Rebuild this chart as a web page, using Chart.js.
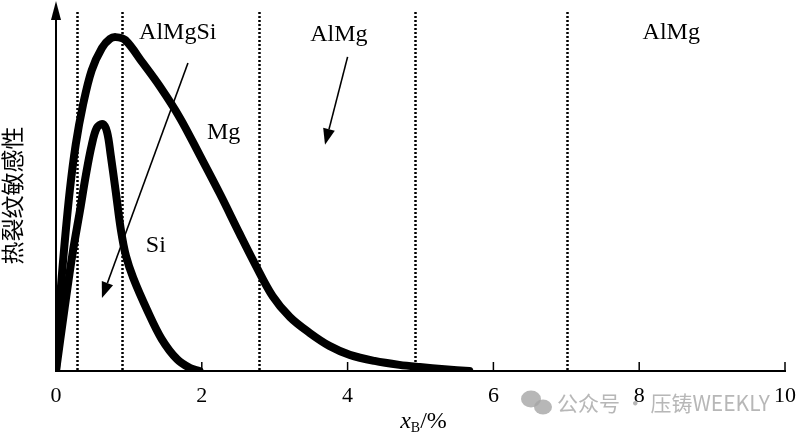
<!DOCTYPE html>
<html>
<head>
<meta charset="utf-8">
<script src="https://cdn.jsdelivr.net/npm/chart.js@4.4.0/dist/chart.umd.min.js"></script>
<style>
  html, body { margin: 0; padding: 0; background: #fff; }
  #wrap { width: 800px; height: 435px; }
</style>
</head>
<body>
<div id="wrap"><canvas id="chart" width="800" height="435"></canvas></div>
<script>
// Mg 曲线 (x 为 xB/%, y 为相对热裂纹敏感性)
const mgX = [0, 0.055, 0.11, 0.19, 0.27, 0.37, 0.49, 0.63, 0.74, 0.82, 0.95, 1.19, 1.43, 1.70, 1.97, 2.25, 2.52, 2.73, 2.97, 3.21, 3.48, 3.75, 4.03, 4.37, 4.71, 4.99, 5.33, 5.67];
const mgY = [0, 19.8, 33.7, 50.4, 63.0, 74.1, 83.8, 90.0, 92.5, 93.0, 92.2, 85.8, 79.1, 70.5, 60.2, 49.3, 38.2, 29.8, 20.9, 15.0, 10.6, 7.0, 4.5, 2.8, 1.7, 1.1, 0.5, 0];

// Si 曲线
const siX = [0, 0.12, 0.23, 0.33, 0.41, 0.49, 0.56, 0.64, 0.70, 0.75, 0.82, 0.89, 0.96, 1.06, 1.25, 1.45, 1.66, 1.84, 1.97];
const siY = [0, 17.8, 33.1, 44.8, 54.6, 62.9, 67.7, 68.8, 66.6, 60.2, 49.9, 39.3, 32.0, 25.9, 17.0, 8.9, 3.3, 0.8, 0];

// 分区虚线位置
const boundaries = [0.29, 0.90, 2.78, 4.92, 7.01];

const xTicks = [0, 2, 4, 6, 8, 10];

// 文字标注
const noteText = ['AlMgSi', 'AlMg', 'AlMg', 'Mg', 'Si'];
const noteX = [1.67, 3.88, 8.44, 2.30, 1.37];
const noteY = [94.2, 93.6, 94.2, 66.3, 34.8];

// 箭头 (起点 -> 终点)
const arrowFrom = [[1.81, 85.8], [4.00, 87.5]];
const arrowTo = [[0.63, 20.3], [3.69, 63.0]];

const toPoints = (xs, ys) => xs.map((x, i) => ({ x: x, y: ys[i] }));

const serif = '"Liberation Serif", "DejaVu Serif", serif';

const decor = {
  id: 'decor',
  beforeDatasetsDraw(chart) {
    const { ctx, chartArea: a, scales: { x } } = chart;
    ctx.save();
    ctx.strokeStyle = '#000';
    ctx.lineWidth = 2.5;
    ctx.setLineDash([2, 2]);
    boundaries.forEach(v => {
      const px = Math.round(x.getPixelForValue(v)) + 0.5;
      ctx.beginPath();
      ctx.moveTo(px, a.top);
      ctx.lineTo(px, a.bottom);
      ctx.stroke();
    });
    ctx.restore();
  },
  afterDatasetsDraw(chart) {
    const { ctx, chartArea: a, scales: { x, y } } = chart;
    ctx.save();

    // y 轴箭头
    ctx.strokeStyle = '#000';
    ctx.fillStyle = '#000';
    ctx.lineWidth = 2;
    ctx.beginPath();
    ctx.moveTo(a.left, a.top);
    ctx.lineTo(a.left, 14);
    ctx.stroke();
    ctx.beginPath();
    ctx.moveTo(a.left, 1);
    ctx.lineTo(a.left - 5, 20);
    ctx.lineTo(a.left + 5, 20);
    ctx.closePath();
    ctx.fill();

    // 刻度（向内）
    ctx.lineWidth = 1.5;
    xTicks.slice(1).forEach(v => {
      const px = x.getPixelForValue(v);
      ctx.beginPath();
      ctx.moveTo(px, a.bottom);
      ctx.lineTo(px, a.bottom - 9);
      ctx.stroke();
    });

    // 箭头
    ctx.lineWidth = 1.6;
    arrowFrom.forEach((f, i) => {
      const x0 = x.getPixelForValue(f[0]), y0 = y.getPixelForValue(f[1]);
      const x1 = x.getPixelForValue(arrowTo[i][0]), y1 = y.getPixelForValue(arrowTo[i][1]);
      const ang = Math.atan2(y1 - y0, x1 - x0);
      const len = 16, half = 6;
      const bx = x1 - len * Math.cos(ang), by = y1 - len * Math.sin(ang);
      ctx.beginPath();
      ctx.moveTo(x0, y0);
      ctx.lineTo(bx, by);
      ctx.stroke();
      ctx.beginPath();
      ctx.moveTo(x1, y1);
      ctx.lineTo(bx + half * Math.sin(ang), by - half * Math.cos(ang));
      ctx.lineTo(bx - half * Math.sin(ang), by + half * Math.cos(ang));
      ctx.closePath();
      ctx.fill();
    });

    // 标注文字
    ctx.font = '24px ' + serif;
    ctx.textAlign = 'center';
    ctx.textBaseline = 'middle';
    noteText.forEach((t, i) => {
      ctx.fillText(t, x.getPixelForValue(noteX[i]), y.getPixelForValue(noteY[i]));
    });

    // x 轴标题 xB/%
    const cx = (a.left + a.right) / 2 + 3;
    const base = chart.height - 7;
    ctx.textBaseline = 'alphabetic';
    ctx.textAlign = 'left';
    ctx.font = 'italic 24px ' + serif;
    const wx = ctx.measureText('x').width;
    ctx.font = '14px ' + serif;
    const wb = ctx.measureText('B').width;
    ctx.font = '24px ' + serif;
    const wp = ctx.measureText('/%').width;
    const sx = cx - (wx + wb + wp) / 2;
    ctx.font = 'italic 24px ' + serif;
    ctx.fillText('x', sx, base);
    ctx.font = '14px ' + serif;
    ctx.fillText('B', sx + wx, base + 4);
    ctx.font = '24px ' + serif;
    ctx.fillText('/%', sx + wx + wb, base);

    // y 轴标题
    ctx.save();
    ctx.translate(12, (a.top + a.bottom) / 2 + 4);
    ctx.rotate(-Math.PI / 2);
    ctx.textAlign = 'center';
    ctx.textBaseline = 'middle';
    ctx.font = '23px "Noto Sans CJK SC", sans-serif';
    ctx.fillText('热裂纹敏感性', 0, 0);
    ctx.restore();

    // 水印
    ctx.fillStyle = 'rgba(165,165,165,0.8)';
    ctx.beginPath();
    ctx.ellipse(531, 399, 10, 8.5, 0, 0, Math.PI * 2);
    ctx.fill();
    ctx.beginPath();
    ctx.ellipse(543, 407, 9, 7.5, 0, 0, Math.PI * 2);
    ctx.fill();
    ctx.font = '21px "Noto Sans CJK SC", sans-serif';
    ctx.textAlign = 'left';
    ctx.textBaseline = 'middle';
    ctx.fillText('公众号 · 压铸WEEKLY', 557, 403, 216);

    ctx.restore();
  }
};

new Chart(document.getElementById('chart'), {
  type: 'scatter',
  data: {
    datasets: [
      { label: 'Mg', data: toPoints(mgX, mgY) },
      { label: 'Si', data: toPoints(siX, siY) }
    ].map(d => Object.assign(d, {
      showLine: true,
      borderColor: '#000',
      borderWidth: 8,
      pointRadius: 0,
      tension: 0.35,
      borderJoinStyle: 'round',
      borderCapStyle: 'round'
    }))
  },
  options: {
    responsive: false,
    animation: false,
    layout: { padding: { left: 0, top: 12, right: 14, bottom: 0 } },
    plugins: { legend: { display: false }, tooltip: { enabled: false } },
    scales: {
      x: {
        type: 'linear',
        min: 0,
        max: 10,
        afterFit: s => { s.height = 64; },
        afterBuildTicks: s => { s.ticks = xTicks.map(v => ({ value: v })); },
        grid: { display: false },
        border: { display: true, color: '#000', width: 2 },
        ticks: { color: '#000', font: { family: serif, size: 22 }, padding: 4 }
      },
      y: {
        min: 0,
        max: 100,
        afterFit: s => { s.width = 56; },
        grid: { display: false },
        border: { display: true, color: '#000', width: 2 },
        ticks: { display: false }
      }
    }
  },
  plugins: [decor]
});
</script>
</body>
</html>
